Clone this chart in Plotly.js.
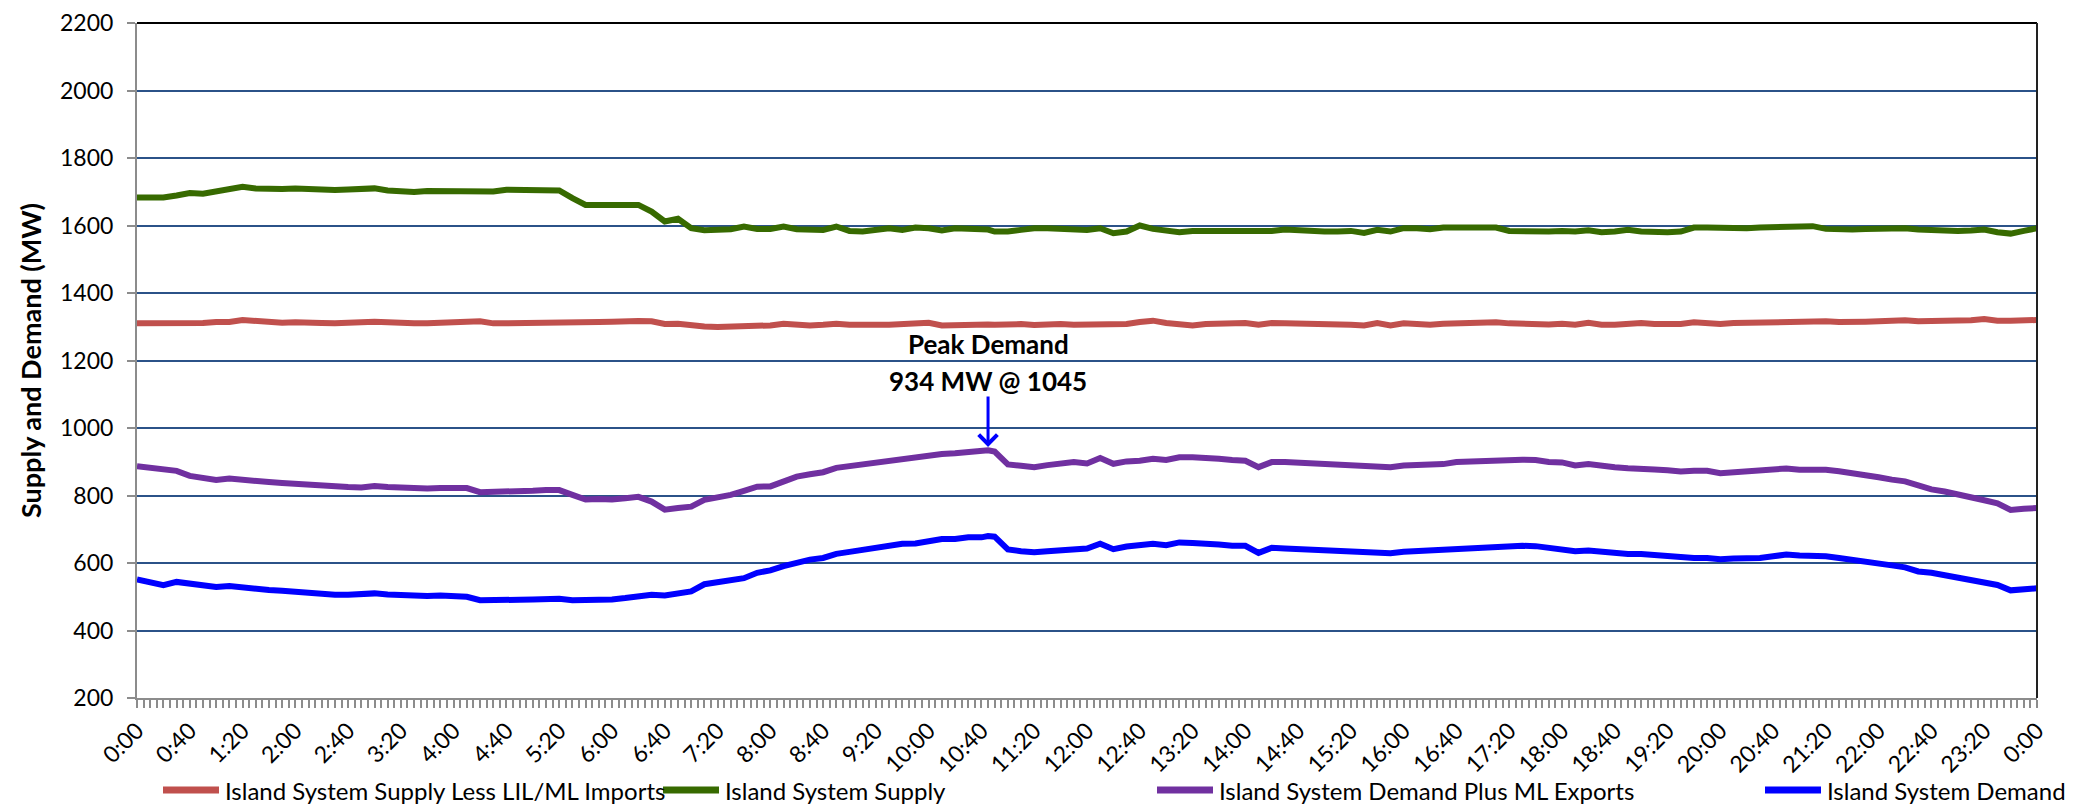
<!DOCTYPE html>
<html>
<head>
<meta charset="utf-8">
<script src="https://cdn.plot.ly/plotly-3.0.1.min.js"></script>
<style>
  html, body { margin: 0; padding: 0; background: #ffffff; }
  #chart { width: 2078px; height: 807px; }
</style>
</head>
<body>
<div id="chart"></div>
<script>
// Time of day in minutes after midnight (10-minute readings plus the 10:45 peak)
const timeMin = [
  0,10,20,30,40,50,60,70,80,90,100,110,120,130,140,150,160,170,180,190,200,210,220,230,
  240,250,260,270,280,290,300,310,320,330,340,350,360,370,380,390,400,410,420,430,440,450,460,470,
  480,490,500,510,520,530,540,550,560,570,580,590,600,610,620,630,640,645,650,660,670,680,690,700,710,
  720,730,740,750,760,770,780,790,800,810,820,830,840,850,860,870,880,890,900,910,920,930,940,950,
  960,970,980,990,1000,1010,1020,1030,1040,1050,1060,1070,1080,1090,1100,1110,1120,1130,1140,1150,1160,1170,1180,1190,
  1200,1210,1220,1230,1240,1250,1260,1270,1280,1290,1300,1310,1320,1330,1340,1350,1360,1370,1380,1390,1400,1410,1420,1430,1440
];

// Island System Supply Less LIL/ML Imports (MW)
const supplyLessImports = [
  1310,1310,1308,1311,1311,1311,1314,1314,1320,1316,1314,1312,1313,1314,1311,1310,1310,1313,1315,1312,1310,1310,1310,1312,
  1310,1312,1316,1310,1310,1311,1312,1313,1314,1312,1312,1314,1315,1317,1317,1316,1308,1309,1304,1301,1299,1300,1305,1304,
  1304,1309,1306,1304,1306,1309,1306,1304,1306,1306,1308,1306,1312,1304,1306,1308,1308,1307,1306,1308,1308,1305,1308,1308,1306,
  1306,1310,1306,1308,1314,1318,1311,1306,1304,1308,1308,1310,1311,1306,1311,1310,1310,1308,1308,1309,1306,1304,1311,1304,
  1310,1308,1306,1309,1310,1312,1310,1313,1310,1308,1306,1307,1309,1306,1312,1306,1306,1308,1311,1308,1306,1308,1313,1311,
  1308,1311,1312,1312,1313,1314,1313,1314,1316,1314,1313,1315,1316,1319,1319,1316,1316,1318,1318,1319,1323,1318,1318,1319,1320
];

// Island System Supply (MW)
const systemSupply = [
  1683,1683,1683,1689,1696,1694,1700,1705,1715,1710,1708,1708,1710,1708,1705,1705,1707,1710,1710,1704,1700,1699,1702,1702,
  1703,1705,1705,1701,1706,1706,1704,1704,1704,1681,1661,1661,1661,1661,1661,1641,1612,1620,1592,1586,1586,1589,1597,1590,
  1590,1597,1589,1587,1587,1597,1584,1582,1586,1592,1587,1594,1592,1585,1592,1592,1591,1588,1582,1582,1587,1592,1592,1590,1587,
  1587,1592,1577,1582,1600,1590,1584,1580,1584,1584,1582,1584,1582,1580,1584,1588,1585,1585,1582,1582,1584,1578,1587,1582,
  1592,1592,1589,1594,1594,1594,1590,1594,1584,1582,1582,1582,1584,1582,1586,1580,1582,1587,1582,1580,1580,1582,1594,1594,
  1592,1592,1592,1594,1595,1596,1594,1598,1590,1587,1588,1590,1592,1594,1592,1588,1586,1584,1584,1585,1588,1580,1576,1584,1592
];

// Island System Demand Plus ML Exports (MW)
const demandPlusExports = [
  887,881,875,873,858,852,846,850,848,842,840,837,834,834,830,826,825,824,828,825,823,822,821,822,
  822,822,810,810,812,812,814,816,816,802,788,790,788,792,796,782,758,763,767,787,794,802,814,826,
  827,840,856,863,869,882,887,895,899,905,911,913,919,923,925,929,931,934,930,892,888,884,890,894,899,
  895,911,894,901,903,909,905,913,913,912,909,905,903,884,899,899,897,895,891,891,889,886,884,884,
  889,889,891,893,899,901,901,903,904,906,905,899,898,889,893,887,884,881,881,877,875,871,873,873,
  866,868,870,872,874,880,876,878,876,872,867,860,854,847,842,830,818,812,802,794,786,777,757,761,763
];

// Island System Demand (MW)
const systemDemand = [
  551,544,534,544,539,536,529,532,528,521,520,518,514,514,510,506,506,508,510,507,504,503,502,504,
  501,500,490,489,490,491,492,493,494,490,490,490,492,496,500,506,504,510,516,537,543,549,555,571,
  578,591,602,610,615,627,633,640,645,650,657,658,665,671,671,676,676,680,678,640,635,632,635,639,643,
  643,657,641,649,651,657,653,661,659,659,655,651,651,630,645,643,641,639,637,637,635,631,629,629,
  633,635,637,639,645,647,647,648,650,651,650,645,643,635,637,633,629,627,627,623,621,617,615,615,
  611,613,613,615,620,625,622,623,620,615,610,607,600,593,587,575,571,563,555,547,541,535,519,521,525
];

const seriesNames = [
  "Island System Supply Less LIL/ML Imports",
  "Island System Supply",
  "Island System Demand Plus ML Exports",
  "Island System Demand"
];
const seriesColors = ["#C0504D", "#376A00", "#7030A0", "#0000FF"];

// X tick labels every 40 minutes
const tickMinutes = [0,40,80,120,160,200,240,280,320,360,400,440,480,520,560,600,640,680,720,
  760,800,840,880,920,960,1000,1040,1080,1120,1160,1200,1240,1280,1320,1360,1400,1440];
const tickLabels = ["0:00","0:40","1:20","2:00","2:40","3:20","4:00","4:40","5:20","6:00","6:40","7:20",
  "8:00","8:40","9:20","10:00","10:40","11:20","12:00","12:40","13:20","14:00","14:40","15:20","16:00",
  "16:40","17:20","18:00","18:40","19:20","20:00","20:40","21:20","22:00","22:40","23:20","0:00"];

const yTicks = [200,400,600,800,1000,1200,1400,1600,1800,2000,2200];

// Peak annotation
const peakTime = 645;
const peakValue = 934;

const FONT = "Lato, 'Open Sans', 'Liberation Sans', sans-serif";

// Plot-area geometry (px) used to place the bottom legend
const W = 2078, H = 807;
const M = { l: 137, r: 41, t: 23, b: 109 };
const plotW = W - M.l - M.r, plotH = H - M.t - M.b;
const legendLineStartPx = [163, 663, 1157, 1765];
const legendLineLen = 56;
const legendCenterPx = 790;
const pxToPaperX = px => (px - M.l) / plotW;
const legendYPaper = (H - M.b - legendCenterPx) / plotH;

const seriesData = [supplyLessImports, systemSupply, demandPlusExports, systemDemand];

const traces = seriesData.map((vals, i) => ({
  type: "scatter",
  mode: "lines",
  x: timeMin,
  y: vals,
  name: seriesNames[i],
  line: { color: seriesColors[i], width: 6 },
  showlegend: false,
  hoverinfo: "x+y+name"
}));

const shapes = [
  { type: "line", xref: "paper", yref: "paper", x0: 0, x1: 1, y0: 1, y1: 1, line: { color: "#000000", width: 2 }, layer: "above" },
  { type: "line", xref: "paper", yref: "paper", x0: 1, x1: 1, y0: 0, y1: 1, line: { color: "#222222", width: 2 }, layer: "above" }
];
const annotations = [
  { x: peakTime, y: 1250, xref: "x", yref: "y", text: "<b>Peak Demand</b>", showarrow: false,
    font: { family: FONT, size: 26, color: "#000000" }, xanchor: "center", yanchor: "middle" },
  { x: peakTime, y: 1140, xref: "x", yref: "y", text: "<b>" + peakValue + " MW @ 1045</b>", showarrow: false,
    font: { family: FONT, size: 26, color: "#000000" }, xanchor: "center", yanchor: "middle" },
  { x: peakTime, y: peakValue + 10, xref: "x", yref: "y", ax: peakTime, ay: 1098, axref: "x", ayref: "y",
    text: "", showarrow: true, arrowhead: 4, arrowsize: 1.2, arrowwidth: 3, arrowcolor: "#0000FF", standoff: 0 }
];

// Legend row under the axis: a coloured line sample followed by the series name
seriesNames.forEach((name, i) => {
  const x0 = legendLineStartPx[i];
  shapes.push({
    type: "line", xref: "paper", yref: "paper",
    x0: pxToPaperX(x0), x1: pxToPaperX(x0 + legendLineLen),
    y0: legendYPaper, y1: legendYPaper,
    line: { color: seriesColors[i], width: 7 }, layer: "above"
  });
  annotations.push({
    xref: "paper", yref: "paper", x: pxToPaperX(x0 + legendLineLen + 4), y: legendYPaper,
    xanchor: "left", yanchor: "middle", showarrow: false, text: name,
    font: { family: FONT, size: 24, color: "#000000" }
  });
});

const layout = {
  width: W,
  height: H,
  paper_bgcolor: "#ffffff",
  plot_bgcolor: "#ffffff",
  margin: { l: M.l, r: M.r, t: M.t, b: M.b, pad: 0 },
  font: { family: FONT, size: 23, color: "#000000" },
  showlegend: false,
  xaxis: {
    range: [0, 1440],
    tickmode: "array",
    tickvals: tickMinutes,
    ticktext: tickLabels,
    tickangle: -45,
    ticks: "outside",
    ticklen: 8,
    tickwidth: 1.5,
    tickcolor: "#8C8C8C",
    showline: true,
    linecolor: "#8C8C8C",
    linewidth: 2,
    showgrid: false,
    zeroline: false,
    tickfont: { family: FONT, size: 23, color: "#000000" },
    minor: { dtick: 5, tick0: 0, ticks: "outside", ticklen: 8, tickwidth: 1.5, tickcolor: "#8C8C8C", showgrid: false },
    automargin: false
  },
  yaxis: {
    range: [200, 2200],
    tickmode: "array",
    tickvals: yTicks,
    ticks: "outside",
    ticklen: 8,
    tickwidth: 1.5,
    tickcolor: "#8C8C8C",
    showline: true,
    linecolor: "#8C8C8C",
    linewidth: 2,
    showgrid: true,
    gridcolor: "#2B5288",
    gridwidth: 1.5,
    zeroline: false,
    ticklabelstandoff: 9,
    tickfont: { family: FONT, size: 23, color: "#000000" },
    title: { text: "<b>Supply and Demand (MW)</b>", font: { family: FONT, size: 27, color: "#000000" }, standoff: 11 },
    automargin: false
  },
  shapes: shapes,
  annotations: annotations
};

Plotly.newPlot("chart", traces, layout, { displayModeBar: false, responsive: false });
</script>
</body>
</html>
